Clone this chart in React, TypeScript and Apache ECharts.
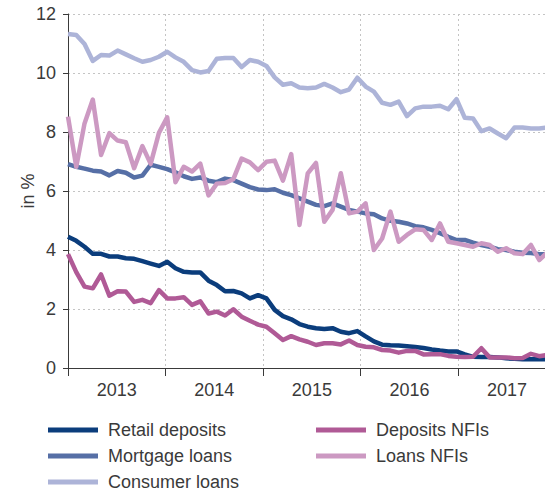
import React, { useEffect, useRef } from "react";
import * as echarts from "echarts";

// Monthly observations in %, one value per month, first value at the left axis
const retailDeposits = [4.45, 4.31, 4.11, 3.87, 3.87, 3.78, 3.78, 3.72, 3.7, 3.62, 3.54, 3.46, 3.6, 3.38, 3.26, 3.24, 3.24, 2.96, 2.81, 2.6, 2.61, 2.53, 2.36, 2.47, 2.36, 1.97, 1.76, 1.65, 1.49, 1.4, 1.35, 1.32, 1.35, 1.23, 1.18, 1.25, 1.07, 0.9, 0.79, 0.77, 0.76, 0.74, 0.71, 0.68, 0.63, 0.59, 0.56, 0.56, 0.46, 0.38, 0.37, 0.37, 0.36, 0.33, 0.31, 0.3, 0.3, 0.3, 0.3];
const mortgageLoans = [6.91, 6.82, 6.76, 6.69, 6.66, 6.53, 6.68, 6.62, 6.46, 6.52, 6.89, 6.82, 6.74, 6.63, 6.5, 6.41, 6.46, 6.35, 6.3, 6.42, 6.37, 6.25, 6.13, 6.05, 6.03, 6.06, 5.94, 5.86, 5.75, 5.64, 5.53, 5.49, 5.58, 5.47, 5.36, 5.3, 5.24, 5.21, 5.07, 4.99, 4.96, 4.9, 4.81, 4.77, 4.68, 4.57, 4.45, 4.34, 4.34, 4.25, 4.17, 4.11, 4.03, 4.0, 3.94, 3.91, 3.9, 3.86, 3.85];
const consumerLoans = [11.32, 11.29, 10.98, 10.41, 10.61, 10.59, 10.76, 10.63, 10.5, 10.38, 10.44, 10.55, 10.72, 10.53, 10.38, 10.1, 10.02, 10.07, 10.48, 10.51, 10.51, 10.2, 10.44, 10.38, 10.24, 9.85, 9.6, 9.65, 9.51, 9.48, 9.51, 9.63, 9.51, 9.35, 9.44, 9.84, 9.54, 9.37, 8.99, 8.92, 9.03, 8.54, 8.8, 8.86, 8.86, 8.89, 8.77, 9.11, 8.48, 8.46, 8.03, 8.12, 7.95, 7.79, 8.15, 8.15, 8.12, 8.12, 8.15];
const depositsNFIs = [3.86, 3.25, 2.76, 2.7, 3.17, 2.45, 2.6, 2.59, 2.24, 2.31, 2.2, 2.64, 2.36, 2.36, 2.4, 2.14, 2.26, 1.85, 1.91, 1.78, 1.99, 1.74, 1.6, 1.47, 1.4, 1.18, 0.95, 1.08, 0.97, 0.89, 0.78, 0.84, 0.84, 0.8, 0.93, 0.78, 0.72, 0.7, 0.61, 0.59, 0.52, 0.58, 0.58, 0.46, 0.47, 0.47, 0.41, 0.38, 0.37, 0.38, 0.67, 0.36, 0.36, 0.36, 0.33, 0.34, 0.48, 0.4, 0.44];
const loansNFIs = [8.52, 6.82, 8.29, 9.1, 7.22, 7.96, 7.71, 7.65, 6.77, 7.52, 6.92, 7.97, 8.5, 6.3, 6.82, 6.66, 6.93, 5.85, 6.25, 6.27, 6.4, 7.1, 6.97, 6.71, 6.99, 7.03, 6.35, 7.25, 4.85, 6.6, 6.95, 4.96, 5.36, 6.6, 5.24, 5.3, 5.58, 4.0, 4.39, 5.3, 4.28, 4.51, 4.7, 4.68, 4.34, 4.9, 4.28, 4.23, 4.17, 4.11, 4.23, 4.17, 3.94, 4.06, 3.89, 3.86, 4.17, 3.66, 3.92];

const yearLabels = ["2013", "2014", "2015", "2016", "2017"];
const stepsPerYear = 11.8; // observation steps between the year grid lines
const xMax = 57.7;
const yTicks = { min: 0, max: 12, interval: 2 };
const yAxisTitle = "in %";

const seriesNames = ["Retail deposits", "Mortgage loans", "Consumer loans", "Deposits NFIs", "Loans NFIs"];
const seriesValues = [retailDeposits, mortgageLoans, consumerLoans, depositsNFIs, loansNFIs];
const seriesColors = ["#0b3d7c", "#566fa6", "#adb4d8", "#b05a96", "#cc99c2"];

const FONT = "Liberation Sans";
const TEXT = "#3a3a3a";

export default function App() {
  const ref = useRef<HTMLDivElement>(null);

  useEffect(() => {
    if (!ref.current) return;
    const chart = echarts.init(ref.current, undefined, { renderer: "svg" });
    const legendPos = [
      { left: 48, top: 421 },
      { left: 48, top: 447 },
      { left: 48, top: 473 },
      { left: 316, top: 421 },
      { left: 316, top: 447 },
    ];
    chart.setOption({
      animation: false,
      backgroundColor: "#ffffff",
      textStyle: { fontFamily: FONT },
      grid: { left: 68, top: 14, right: 0, bottom: 124, containLabel: false },
      graphic: [
        {
          type: "text",
          x: 28,
          y: 191,
          rotation: Math.PI / 2,
          style: {
            text: yAxisTitle,
            fontSize: 18,
            fontFamily: FONT,
            fill: TEXT,
            align: "center",
            verticalAlign: "middle",
          },
        },
      ],
      xAxis: [
        {
          type: "value",
          min: 0,
          max: xMax,
          interval: stepsPerYear,
          position: "bottom",
          axisLine: { show: true, lineStyle: { color: TEXT, width: 1 } },
          axisTick: { show: true, length: 8, lineStyle: { color: TEXT, width: 1 } },
          axisLabel: { show: false },
          splitLine: { show: true, lineStyle: { color: "#c4c4c4", type: [2, 3], width: 1 } },
        },
        {
          type: "value",
          min: 0,
          max: xMax,
          interval: stepsPerYear / 2,
          position: "bottom",
          axisLine: { show: false },
          axisTick: { show: false },
          splitLine: { show: false },
          axisLabel: {
            show: true,
            margin: 13,
            fontSize: 18,
            color: TEXT,
            fontFamily: FONT,
            showMinLabel: true,
            showMaxLabel: false,
            formatter: (v: number) => {
              const k = Math.round(v / (stepsPerYear / 2));
              if (k % 2 !== 1) return "";
              return yearLabels[(k - 1) / 2] ?? "";
            },
          },
        },
      ],
      yAxis: {
        type: "value",
        min: yTicks.min,
        max: yTicks.max,
        interval: yTicks.interval,
        axisLine: { show: true, lineStyle: { color: TEXT, width: 1 } },
        axisTick: { show: true, length: 5, lineStyle: { color: TEXT } },
        axisLabel: { fontSize: 18, color: TEXT, margin: 12, fontFamily: FONT },
        splitLine: { show: true, lineStyle: { color: "#c4c4c4", type: [2, 3], width: 1 } },
      },
      legend: seriesNames.map((name, s) => ({
        data: [name],
        left: legendPos[s].left,
        top: legendPos[s].top,
        padding: 0,
        icon: "rect",
        itemWidth: 50,
        itemHeight: 5,
        selectedMode: false,
        textStyle: { fontSize: 18, color: TEXT, fontFamily: FONT, padding: [0, 0, 0, 5] },
      })),
      series: seriesNames.map((name, s) => ({
        name,
        type: "line",
        xAxisIndex: 0,
        showSymbol: false,
        symbol: "none",
        clip: true,
        color: seriesColors[s],
        lineStyle: { width: 4.5, color: seriesColors[s], join: "round", cap: "butt" },
        data: seriesValues[s].map((v, i) => [i, v]),
      })),
    });
    return () => chart.dispose();
  }, []);

  return (
    <div
      ref={ref}
      style={{ position: "fixed", left: 0, top: 0, width: 545, height: 492, background: "#fff" }}
    />
  );
}
